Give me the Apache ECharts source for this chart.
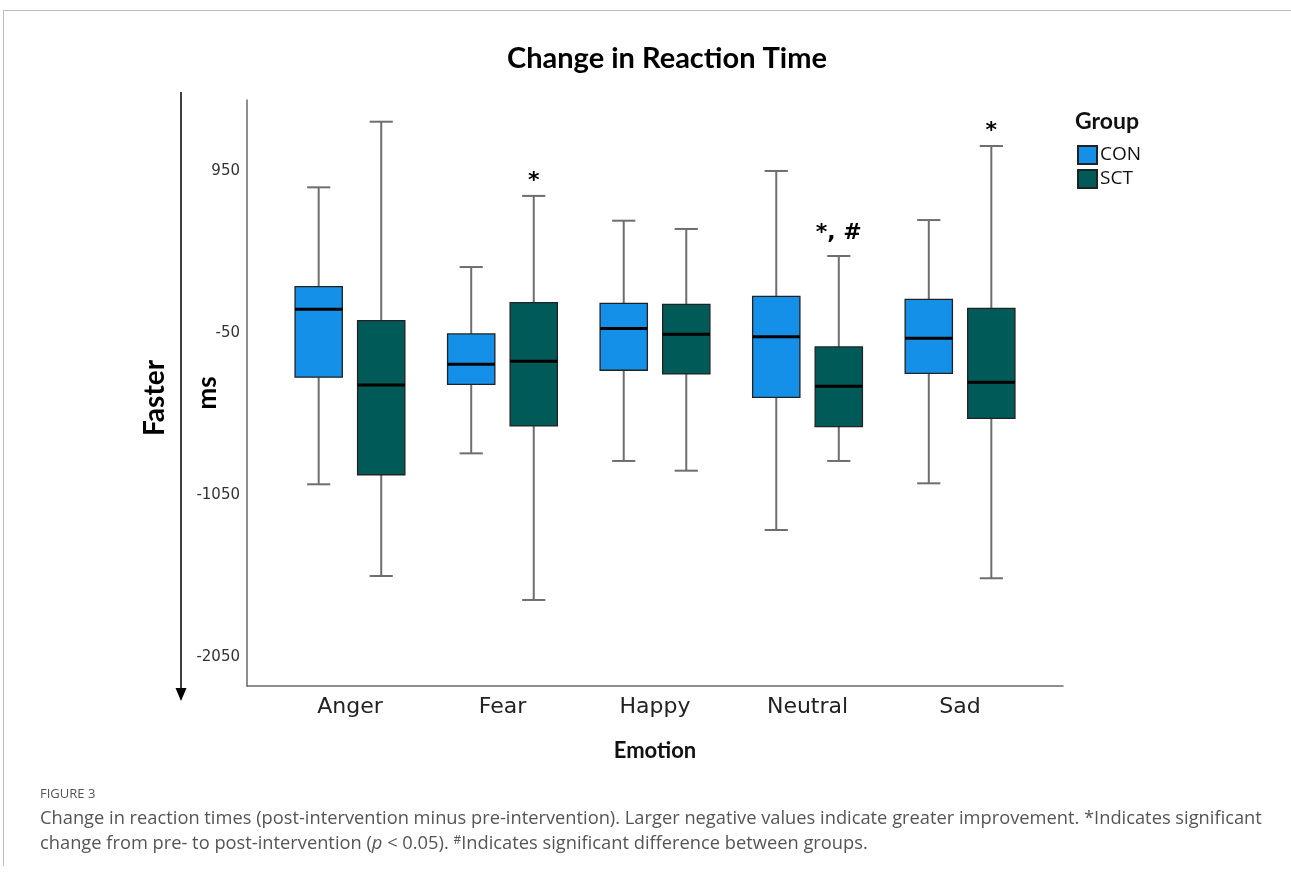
<!DOCTYPE html>
<html>
<head>
<meta charset="utf-8">
<script src="https://cdn.jsdelivr.net/npm/echarts@6/dist/echarts.min.js"></script>
<style>
html,body{margin:0;padding:0;background:#fff;}
#chart{width:1291px;height:875px;}
</style>
</head>
<body>
<div id="chart"></div>
<script>
const categories = ['Anger', 'Fear', 'Happy', 'Neutral', 'Sad'];
const xTickValues = [0, 1, 2, 3, 4];
const yTicks = [950, -50, -1050, -2050];

const conMin    = [-984, -793, -840, -1266, -978];
const conQ1     = [-323, -367, -280, -447, -299];
const conMedian = [96, -243, -23, -73, -83];
const conQ3     = [236, -56, 133, 176, 158];
const conMax    = [849, 357, 643, 950, 647];

const sctMin    = [-1550, -1698, -900, -840, -1564];
const sctQ1     = [-925, -624, -303, -628, -577];
const sctMedian = [-371, -225, -58, -379, -354];
const sctQ3     = [26, 137, 127, -136, 102];
const sctMax    = [1254, 796, 592, 425, 1104];
const sctMarks  = ['', '*', '', '*, #', '*'];
const conMarks  = ['', '', '', '', ''];

const CON_COLOR = '#1590e8';
const SCT_COLOR = '#005a58';

function rows(mn, q1, md, q3, mx) {
  return categories.map((c, i) => [i, mn[i], q1[i], md[i], q3[i], mx[i]]);
}

function makeRender(sign, color, marks) {
  return function (params, api) {
    const idx = api.value(0);
    const band = api.size([1, 0])[0];
    const cx = api.coord([idx, 0])[0] + sign * band * 0.205;
    const yMin = api.coord([idx, api.value(1)])[1];
    const yQ1 = api.coord([idx, api.value(2)])[1];
    const yMed = api.coord([idx, api.value(3)])[1];
    const yQ3 = api.coord([idx, api.value(4)])[1];
    const yMax = api.coord([idx, api.value(5)])[1];
    const bw = band * 0.31;
    const cw = band * 0.152;
    const whisk = { stroke: '#6e6e6e', lineWidth: 2 };
    const children = [
      { type: 'line', shape: { x1: cx, y1: yMax, x2: cx, y2: yQ3 }, style: whisk },
      { type: 'line', shape: { x1: cx, y1: yQ1, x2: cx, y2: yMin }, style: whisk },
      { type: 'line', shape: { x1: cx - cw / 2, y1: yMax, x2: cx + cw / 2, y2: yMax }, style: whisk },
      { type: 'line', shape: { x1: cx - cw / 2, y1: yMin, x2: cx + cw / 2, y2: yMin }, style: whisk },
      { type: 'rect', shape: { x: cx - bw / 2, y: yQ3, width: bw, height: yQ1 - yQ3 },
        style: { fill: color, stroke: '#222', lineWidth: 1.3 } },
      { type: 'line', shape: { x1: cx - bw / 2, y1: yMed, x2: cx + bw / 2, y2: yMed },
        style: { stroke: '#000', lineWidth: 3 } }
    ];
    const m = marks[params.dataIndex];
    if (m) {
      const gap = m.indexOf('#') >= 0 ? 12 : 4;
      children.push({
        type: 'text',
        style: { text: m, x: cx, y: yMax - gap, align: 'center', verticalAlign: 'bottom',
          fontSize: 22, fontWeight: 'bold', fontFamily: 'DejaVu Sans', fill: '#000' }
      });
    }
    return { type: 'group', children: children };
  };
}

const chart = echarts.init(document.getElementById('chart'), null, { renderer: 'canvas' });

const option = {
  backgroundColor: '#fff',
  animation: false,
  title: {
    text: 'Change in Reaction Time',
    left: 502, top: 39,
    textStyle: { fontSize: 29, fontWeight: 'bold', fontFamily: 'Lato', color: '#000' }
  },
  legend: {
    data: ['CON', 'SCT'],
    orient: 'vertical',
    left: 1077, top: 145,
    padding: 0,
    icon: 'rect',
    itemWidth: 19, itemHeight: 18, itemGap: 4,
    textStyle: { fontSize: 19, fontFamily: 'Open Sans', color: '#111', padding: [0, 0, 0, -2] }
  },
  grid: { left: 247, right: 228, top: 100, bottom: 189, containLabel: false },
  xAxis: {
    type: 'value',
    min: -0.675, max: 4.675,
    name: 'Emotion', nameLocation: 'middle', nameGap: 54,
    nameTextStyle: { fontSize: 22, fontWeight: 'bold', fontFamily: 'Lato', color: '#111' },
    axisLine: { show: true, onZero: false, lineStyle: { color: '#6a6a6a', width: 1.5 } },
    axisTick: { show: false },
    splitLine: { show: false },
    axisLabel: {
      customValues: xTickValues,
      formatter: v => categories[Math.round(v)] || '',
      fontSize: 22, fontFamily: 'DejaVu Sans', color: '#222', margin: 10
    }
  },
  yAxis: {
    type: 'value',
    min: -2229, max: 1388,
    axisLine: { show: true, onZero: false, lineStyle: { color: '#6a6a6a', width: 1.5 } },
    axisTick: { show: false },
    splitLine: { show: false },
    axisLabel: {
      customValues: yTicks,
      formatter: v => String(v),
      fontSize: 15, fontFamily: 'DejaVu Sans', color: '#333', margin: 7
    }
  },
  series: [
    {
      name: 'CON', type: 'custom',
      renderItem: makeRender(-1, CON_COLOR, conMarks),
      itemStyle: { color: CON_COLOR, borderColor: '#222', borderWidth: 1 },
      encode: { x: 0, y: [1, 2, 3, 4, 5] },
      data: rows(conMin, conQ1, conMedian, conQ3, conMax)
    },
    {
      name: 'SCT', type: 'custom',
      renderItem: makeRender(1, SCT_COLOR, sctMarks),
      itemStyle: { color: SCT_COLOR, borderColor: '#222', borderWidth: 1 },
      encode: { x: 0, y: [1, 2, 3, 4, 5] },
      data: rows(sctMin, sctQ1, sctMedian, sctQ3, sctMax)
    }
  ],
  graphic: [
    { type: 'line', shape: { x1: 3, y1: 10.5, x2: 1291, y2: 10.5 }, style: { stroke: '#bdbdbd', lineWidth: 1 } },
    { type: 'line', shape: { x1: 3.5, y1: 10, x2: 3.5, y2: 866 }, style: { stroke: '#bdbdbd', lineWidth: 1 } },
    { type: 'text', left: 1075, top: 110,
      style: { text: 'Group', fontSize: 23, fontWeight: 'bold', fontFamily: 'Lato', fill: '#111' } },
    { type: 'line', shape: { x1: 181, y1: 92, x2: 181, y2: 690 }, style: { stroke: '#000', lineWidth: 1.5 } },
    { type: 'polygon', shape: { points: [[175.5, 688], [186.5, 688], [181, 701]] }, style: { fill: '#000' } },
    { type: 'text', x: 155, y: 398, rotation: Math.PI / 2,
      style: { text: 'Faster', fontSize: 28, fontWeight: 'bold', fontFamily: 'Lato', fill: '#000',
        align: 'center', verticalAlign: 'middle' } },
    { type: 'text', x: 208, y: 393, rotation: Math.PI / 2,
      style: { text: 'ms', fontSize: 26, fontWeight: 'bold', fontFamily: 'Lato', fill: '#000',
        align: 'center', verticalAlign: 'middle' } },
    { type: 'text', left: 40, top: 788,
      style: { text: 'FIGURE 3', fontSize: 13, fontFamily: 'Open Sans', fill: '#555' } },
    { type: 'text', left: 40, top: 810,
      style: { text: 'Change in reaction times (post-intervention minus pre-intervention). Larger negative values indicate greater improvement. *Indicates significant',
        fontSize: 18.3, fontFamily: 'Open Sans', fill: '#555' } },
    { type: 'text', left: 40, top: 835,
      style: {
        text: '{a|change from pre- to post-intervention (}{i|p}{a| < 0.05). }{s|#}{a|Indicates significant difference between groups.}',
        fill: '#555',
        rich: {
          a: { fontSize: 18.3, fontFamily: 'Open Sans', fill: '#555' },
          i: { fontSize: 18.3, fontFamily: 'Open Sans', fontStyle: 'italic', fill: '#555' },
          s: { fontSize: 12, fontFamily: 'Open Sans', fill: '#555', verticalAlign: 'top' }
        }
      } }
  ]
};

chart.setOption(option);
</script>
</body>
</html>
